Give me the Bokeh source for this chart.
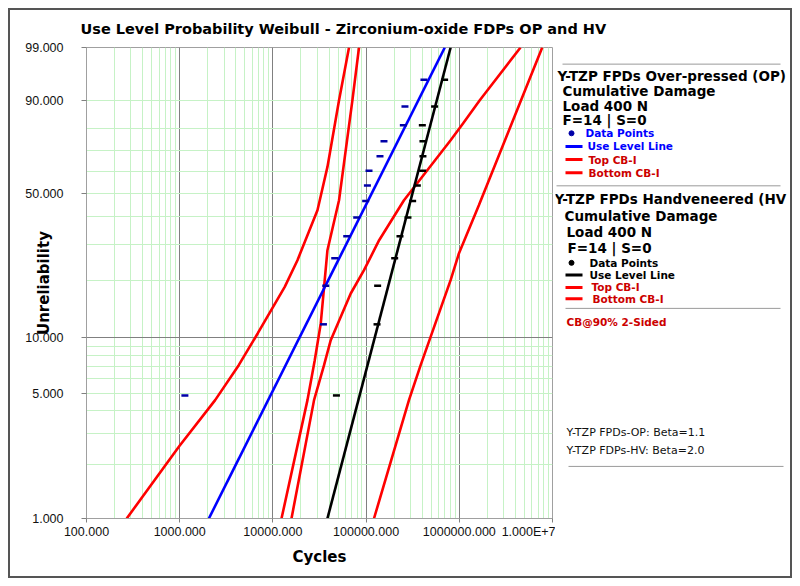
import numpy as np
from bokeh.plotting import figure
from bokeh.layouts import column, row
from bokeh.models import (Range1d, FixedTicker, CustomJSTickFormatter,
                          GlobalInlineStyleSheet)
from bokeh.core.properties import value
from bokeh.embed import file_html
from bokeh.resources import INLINE

# ---------------- data (unreliability in %, cycles) ----------------
rank_unrel = [4.86, 11.81, 18.75, 25.69, 32.64, 39.58, 46.53, 53.47, 60.42,
              67.36, 74.31, 81.25, 88.19, 95.14]
op_cycles = [1137, 34860, 36900, 46070, 61960, 79300, 99000, 103260, 107420,
             140930, 155550, 251000, 261200, 417500]
hv_cycles = [48040, 131000, 133000, 202600, 230900, 281300, 315800, 354600,
             404200, 407200, 407200, 401200, 543500, 695700]

line_unrel = [1.0, 99.0]
op_line_cycles = [2056, 699000]
hv_line_cycles = [38460, 807000]

op_lo_unrel = [1.00, 2.54, 4.58, 7.12, 10.59, 18.50, 25.13, 42.57, 62.25, 90.18, 99.00]
op_lo_cycles = [270, 988, 2400, 4300, 6890, 13400, 18350, 30070, 38480, 51240, 65570]
op_hi_unrel = [1.00, 4.58, 7.12, 9.72, 17.11, 22.44, 31.30, 46.83, 74.82, 81.98,
               90.18, 99.00]
op_hi_cycles = [15830, 27640, 35390, 41750, 68390, 94950, 138000, 255000, 806900,
                1095700, 1658000, 4540000]
hv_lo_unrel = [1.00, 4.58, 7.58, 11.93, 28.08, 46.83, 90.18, 99.00]
hv_lo_cycles = [12370, 23490, 28120, 32620, 38480, 51240, 71330, 83930]
hv_hi_unrel = [1.00, 4.58, 7.12, 20.00, 27.08, 44.68, 99.00]
hv_hi_cycles = [121540, 288300, 384900, 806900, 990200, 1622000, 7757000]

y_tick_unrel = [1, 5, 10, 50, 90, 99]
y_grid_major = [10]
y_grid_minor = [2, 3, 4, 5, 6, 7, 8, 9, 20, 30, 40, 50, 60, 70, 80, 90]
x_ticks = [1e2, 1e3, 1e4, 1e5, 1e6, 1e7]
x_minor = [m * d for d in [1e2, 1e3, 1e4, 1e5, 1e6] for m in range(2, 10)]


def wz(f):
    f = np.asarray(f, dtype=float) / 100.0
    return np.log(-np.log(1.0 - f))


FONT = "DejaVu Sans"
TICKFONT = "Liberation Sans"
BLUE = "#0000ff"
RED = "#ff0000"
DRED = "#cc0000"
GREEN = "#c6f2c6"

Z1, Z99 = float(wz(1)), float(wz(99))

# ---------------- main chart ----------------
p = figure(width=555, height=538, x_axis_type="log",
           x_range=Range1d(100, 1e7), y_range=Range1d(Z1, Z99),
           output_backend="svg", toolbar_location=None, title=None,
           min_border_left=86, min_border_right=3, min_border_top=7,
           min_border_bottom=60)
p.background_fill_color = "white"
p.border_fill_color = "white"
p.outline_line_color = "#a0a0a0"

p.xaxis.ticker = FixedTicker(ticks=x_ticks, minor_ticks=x_minor)
p.xaxis.formatter = CustomJSTickFormatter(
    code="return tick >= 9.99e6 ? '1.000E+7' : tick.toFixed(3);")
p.yaxis.ticker = FixedTicker(ticks=list(wz(y_tick_unrel)), minor_ticks=[])
p.yaxis.formatter = CustomJSTickFormatter(
    code="const F = 100*(1-Math.exp(-Math.exp(tick))); return F.toFixed(3);")
for ax in (p.xaxis[0], p.yaxis[0]):
    ax.axis_line_color = "#a0a0a0"
    ax.major_tick_line_color = "#808080"
    ax.minor_tick_line_color = None
    ax.major_label_text_font = TICKFONT
    ax.major_label_text_font_size = "12.5px"
    ax.major_label_text_color = "#111111"
    ax.axis_label_text_font = FONT
    ax.axis_label_text_font_style = "bold"
    ax.axis_label_text_font_size = "15px"
    ax.axis_label_text_color = "black"
p.xaxis.major_tick_out = 4
p.xaxis.major_tick_in = 0
p.yaxis.major_tick_out = 5
p.yaxis.major_tick_in = 0
p.xaxis.major_label_standoff = 2
p.yaxis.major_label_standoff = 18
p.xaxis.axis_label = "Cycles"
p.xaxis.axis_label_standoff = 6
p.yaxis.axis_label = "Unreliability"
p.yaxis.axis_label_standoff = -31

# grids
p.xgrid.grid_line_color = "#808080"
p.xgrid.minor_grid_line_color = GREEN
p.ygrid.ticker = FixedTicker(ticks=list(wz(y_grid_major)),
                             minor_ticks=list(wz(y_grid_minor)))
p.ygrid.grid_line_color = "#808080"
p.ygrid.minor_grid_line_color = GREEN

# confidence bounds
for u, c in [(op_lo_unrel, op_lo_cycles), (op_hi_unrel, op_hi_cycles),
             (hv_lo_unrel, hv_lo_cycles), (hv_hi_unrel, hv_hi_cycles)]:
    p.line(c, wz(u), line_color=RED, line_width=2.6)

# use level lines
p.line(op_line_cycles, wz(line_unrel), line_color=BLUE, line_width=2.6)
p.line(hv_line_cycles, wz(line_unrel), line_color="black", line_width=2.6)

# data points
p.scatter(op_cycles, wz(rank_unrel), marker="dash", size=7, line_width=2.5,
          line_color="#0000a8")
p.scatter(hv_cycles, wz(rank_unrel), marker="dash", size=7, line_width=2.5,
          line_color="black")


# ---------------- helper figures for text outside the plot frame ----------------
def blank(w, h, x0, x1, y0, y1):
    f = figure(width=w, height=h, x_range=Range1d(x0, x1), y_range=Range1d(y1, y0),
               x_axis_location=None, y_axis_location=None, output_backend="svg",
               toolbar_location=None, title=None, min_border=0)
    f.outline_line_color = None
    f.grid.visible = False
    f.background_fill_color = "white"
    f.border_fill_color = "white"
    return f


def txt(f, s, x, y, size, color="black", bold=True):
    f.text(x=[x], y=[y], text=[s], text_font=value(FONT), text_font_size=value(size),
           text_font_style="bold" if bold else "normal", text_color=color,
           text_baseline="middle", text_align="left")


def seg(f, x0, x1, y, color, width):
    f.segment(x0=[x0], y0=[y], x1=[x1], y1=[y], line_color=color, line_width=width)


top = blank(792, 40, 0, 792, 0, 40)
txt(top, "Use Level Probability Weibull - Zirconium-oxide FDPs OP and HV", 80, 28, "14.5px")

panel = blank(237, 538, 555, 792, 40, 578)
seg(panel, 562, 780, 59, "#9a9a9a", 1)
seg(panel, 556, 780, 198, "#9a9a9a", 1)
seg(panel, 565, 780, 338, "#9a9a9a", 1)
seg(panel, 568, 783, 518.5, "#9a9a9a", 1)

txt(panel, "Y-TZP FPDs Over-pressed (OP)", 557, 73, "13.5px")
txt(panel, "Cumulative Damage", 562, 90, "13.5px")
txt(panel, "Load 400 N", 562, 107, "13.5px")
txt(panel, "F=14 | S=0", 562, 123, "13.5px")
panel.scatter([571], [138], marker="circle", size=5, color="#0000a8")
txt(panel, "Data Points", 585, 138, "10.5px", BLUE)
seg(panel, 565, 582, 153, BLUE, 3)
txt(panel, "Use Level Line", 587, 153, "10.5px", BLUE)
seg(panel, 565, 582, 168, RED, 3)
txt(panel, "Top CB-I", 588, 168, "10.5px", DRED)
seg(panel, 565, 582, 183, RED, 3)
txt(panel, "Bottom CB-I", 588, 183, "10.5px", DRED)

txt(panel, "Y-TZP FPDs Handveneered (HV", 554, 213, "13.5px")
txt(panel, "Cumulative Damage", 564, 233, "13.5px")
txt(panel, "Load 400 N", 566, 251, "13.5px")
txt(panel, "F=14 | S=0", 567, 269, "13.5px")
panel.scatter([571], [286], marker="circle", size=5, color="black")
txt(panel, "Data Points", 589, 286, "10.5px", "black")
seg(panel, 565, 582, 300, "black", 3)
txt(panel, "Use Level Line", 589, 300, "10.5px", "black")
seg(panel, 565, 582, 314, RED, 3)
txt(panel, "Top CB-I", 591, 314, "10.5px", DRED)
seg(panel, 565, 582, 327, RED, 3)
txt(panel, "Bottom CB-I", 592, 327, "10.5px", DRED)

txt(panel, "CB@90% 2-Sided", 566, 354, "10.5px", DRED)
txt(panel, "Y-TZP FPDs-OP: Beta=1.1", 566, 480, "11px", "#111111", bold=False)
txt(panel, "Y-TZP FDPs-HV: Beta=2.0", 566, 500, "11px", "#111111", bold=False)

border_css = GlobalInlineStyleSheet(css="""
body::after {
  content: ''; position: fixed; left: 8px; top: 8px; width: 784px; height: 570px;
  border: 2px solid #555555; box-sizing: border-box; pointer-events: none;
  z-index: 9999;
}
""")

layout = column(top, row(p, panel), stylesheets=[border_css])

open("out.html", "w").write(file_html(layout, INLINE))
